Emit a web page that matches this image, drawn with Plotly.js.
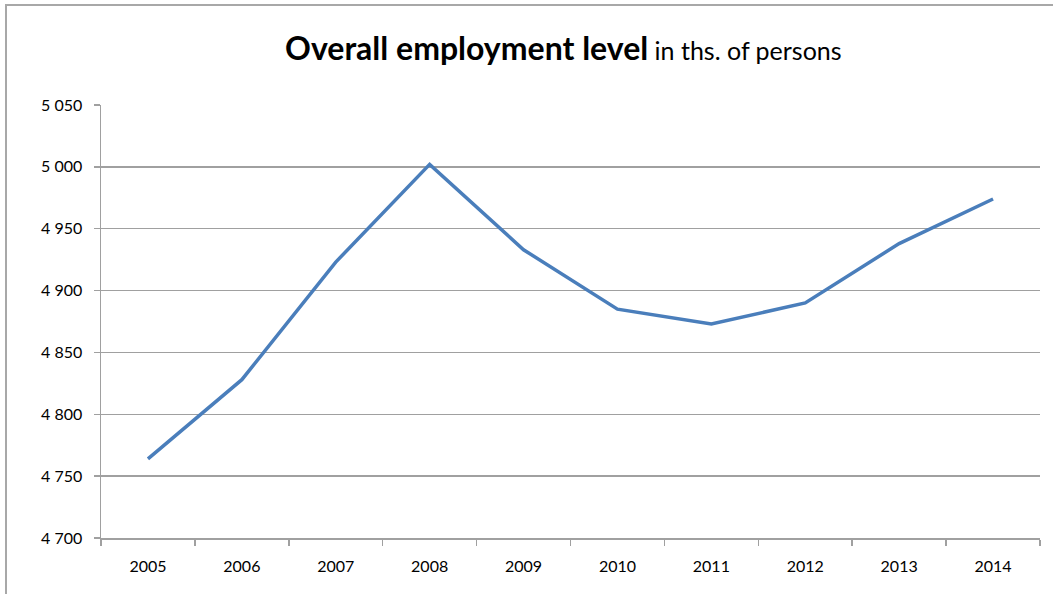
<!DOCTYPE html>
<html>
<head>
<meta charset="utf-8">
<script src="https://cdn.plot.ly/plotly-3.0.1.min.js"></script>
<style>
html,body{margin:0;padding:0;background:#fff;overflow:hidden;}
#wrap{position:relative;width:1053px;height:594px;}
#chart{position:absolute;left:0;top:0;width:1053px;height:594px;}
#frame{position:absolute;left:5px;top:4px;width:1100px;height:700px;border:2px solid #a8a8a8;pointer-events:none;box-sizing:border-box;}
</style>
</head>
<body>
<div id="wrap"><div id="chart"></div><div id="frame"></div></div>
<script>
const years = ['2005','2006','2007','2008','2009','2010','2011','2012','2013','2014'];
const employment = [4764, 4828, 4923, 5002, 4933, 4885, 4873, 4890, 4938, 4974];
const yTicks = [4700, 4750, 4800, 4850, 4900, 4950, 5000, 5050];

const trace = {
  type: 'scatter',
  mode: 'lines',
  x: years,
  y: employment,
  line: {color: '#4a7ebb', width: 3.5},
  hoverinfo: 'x+y'
};

const layout = {
  width: 1053,
  height: 594,
  margin: {l: 101, r: 13, t: 105, b: 56},
  paper_bgcolor: 'rgba(0,0,0,0)',
  plot_bgcolor: '#ffffff',
  showlegend: false,
  separators: ', ',
  font: {family: 'Lato, "Open Sans", sans-serif', color: '#000'},
  title: {
    text: '<b>Overall employment level</b><span style="font-size:25px"> in ths. of persons</span>',
    font: {family: 'Lato, "Open Sans", sans-serif', size: 32, color: '#000'},
    x: 0.535, xanchor: 'center',
    y: 0.918, yanchor: 'middle'
  },
  xaxis: {
    type: 'category',
    range: [-0.5, years.length - 0.5],
    tickson: 'boundaries',
    ticks: 'outside',
    ticklen: 6,
    tickcolor: '#a0a0a0',
    tickwidth: 1.5,
    showgrid: false,
    showline: true,
    linecolor: '#a0a0a0',
    linewidth: 1.5,
    ticklabelstandoff: 13,
    tickfont: {family: 'Lato, "Open Sans", sans-serif', size: 16, color: '#000'},
    fixedrange: true
  },
  yaxis: {
    range: [4700, 5050],
    tickvals: yTicks,
    tickformat: ',d',
    ticks: 'outside',
    ticklen: 6,
    tickcolor: '#a0a0a0',
    tickwidth: 1.5,
    showgrid: true,
    gridcolor: '#a0a0a0',
    gridwidth: 1.5,
    showline: true,
    linecolor: '#a0a0a0',
    linewidth: 1.5,
    zeroline: false,
    ticklabelstandoff: 8,
    tickfont: {family: 'Lato, "Open Sans", sans-serif', size: 16, color: '#000'},
    fixedrange: true
  }
};

Plotly.newPlot('chart', [trace], layout, {displayModeBar: false, staticPlot: true});
</script>
</body>
</html>
